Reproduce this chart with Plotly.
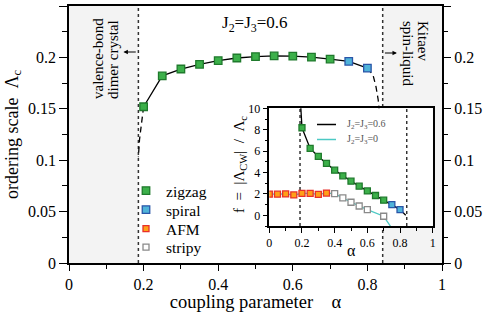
import plotly.graph_objects as go

# ---------------- data ----------------
# main panel: ordering scale Lambda_c vs alpha (J2=J3=0.6)
alpha_zigzag = [0.20, 0.25, 0.30, 0.35, 0.40, 0.45, 0.50, 0.55, 0.60, 0.65, 0.70]
lam_zigzag = [0.152, 0.182, 0.1887, 0.1933, 0.1968, 0.1994, 0.2008, 0.2014, 0.2012, 0.2002, 0.1984]
alpha_spiral = [0.75, 0.80]
lam_spiral = [0.1962, 0.1895]
# dashed extrapolations toward the phase boundaries
alpha_dash_left = [0.200, 0.193, 0.189, 0.186]
lam_dash_left = [0.152, 0.134, 0.120, 0.103]
alpha_dash_right = [0.800, 0.815, 0.823, 0.829, 0.836, 0.841]
lam_dash_right = [0.1895, 0.1829, 0.1715, 0.1586, 0.13, 0.10]
phase_bounds = [0.186, 0.841]

# inset: f = |Lambda_CW| / Lambda_c
in_alpha_zigzag = [0.20, 0.25, 0.30, 0.35, 0.40, 0.45, 0.50, 0.55, 0.60, 0.65, 0.70]
in_f_zigzag = [8.18, 6.25, 5.50, 4.85, 4.22, 3.69, 3.19, 2.72, 2.28, 1.85, 1.41]
in_alpha_spiral = [0.75, 0.80]
in_f_spiral = [1.00, 0.53]
in_alpha_afm = [0.00, 0.05, 0.10, 0.15, 0.20, 0.25, 0.30, 0.35]
in_f_afm = [1.97, 1.97, 2.00, 1.90, 2.05, 2.05, 1.95, 2.08]
in_alpha_stripy = [0.40, 0.45, 0.50, 0.55, 0.60, 0.70]
in_f_stripy = [2.03, 1.62, 1.22, 0.87, 0.53, -0.09]
# curves
line06_alpha = [0.192, 0.20, 0.25, 0.30, 0.35, 0.40, 0.45, 0.50, 0.55, 0.60, 0.65, 0.70, 0.75, 0.80, 0.835]
line06_f = [10.3, 8.18, 6.25, 5.50, 4.85, 4.22, 3.69, 3.19, 2.72, 2.28, 1.85, 1.41, 1.00, 0.53, 0.0]
line0_alpha = [0.00, 0.05, 0.10, 0.15, 0.20, 0.25, 0.30, 0.35, 0.40, 0.45, 0.50, 0.55, 0.60, 0.65, 0.70, 0.745]
line0_f = [1.97, 1.97, 2.00, 1.90, 2.05, 2.05, 1.95, 2.08, 2.03, 1.62, 1.22, 0.87, 0.53, 0.24, -0.09, -1.1]
inset_bounds = [0.188, 0.841]

main_xticks = [0, 0.2, 0.4, 0.6, 0.8, 1]
main_yticks = [0, 0.05, 0.1, 0.15, 0.2, 0.25]
main_ytick_text = ["0", "0.05", "0.1", "0.15", "0.2", "0.25"]
inset_xticks = [0, 0.2, 0.4, 0.6, 0.8, 1]
inset_yticks = [0, 2, 4, 6, 8, 10]

# ---------------- styles ----------------
FONT = "Liberation Serif, Times New Roman, serif"
W, H = 485, 312
L, R, T, B = 69, 43, 6, 49
PW, PH = W - L - R, H - T - B

def px_x(px):
    return (px - L) / PW

def px_y(py):
    return (H - B - py) / PH

zig = dict(symbol="square", color="#3cb04a", line=dict(color="#1f7a2c", width=1.3))
spi = dict(symbol="square", color="#4fb3d9", line=dict(color="#2a55a8", width=1.3))
afm = dict(symbol="square", color="#ffa018", line=dict(color="#e8302a", width=1.3))
stp = dict(symbol="square", color="#ffffff", line=dict(color="#8a8a8a", width=1.3))

fig = go.Figure()

# ---- main panel ----
for xb in phase_bounds:
    fig.add_trace(go.Scatter(x=[xb, xb], y=[0, 0.25], mode="lines",
                             line=dict(color="#333333", width=1.5, dash="dot"),
                             showlegend=False, hoverinfo="skip", xaxis="x", yaxis="y"))
fig.add_trace(go.Scatter(x=alpha_dash_left, y=lam_dash_left, mode="lines",
                         line=dict(color="black", width=1.3, dash="6px,4px"),
                         showlegend=False, xaxis="x", yaxis="y"))
fig.add_trace(go.Scatter(x=alpha_dash_right, y=lam_dash_right, mode="lines",
                         line=dict(color="black", width=1.3, dash="6px,4px"),
                         showlegend=False, xaxis="x", yaxis="y"))
fig.add_trace(go.Scatter(x=alpha_zigzag + alpha_spiral, y=lam_zigzag + lam_spiral, mode="lines",
                         line=dict(color="black", width=1.3),
                         showlegend=False, xaxis="x", yaxis="y"))
fig.add_trace(go.Scatter(x=alpha_zigzag, y=lam_zigzag, mode="markers", name="zigzag", legend="legend",
                         marker=dict(size=7.5, **zig), xaxis="x", yaxis="y"))
fig.add_trace(go.Scatter(x=alpha_spiral, y=lam_spiral, mode="markers", name="spiral", legend="legend2",
                         marker=dict(size=7.5, **spi), xaxis="x", yaxis="y"))
# invisible trace for right-hand y axis
fig.add_trace(go.Scatter(x=[0.5], y=[0.1], mode="markers", marker=dict(opacity=0),
                         showlegend=False, hoverinfo="skip", xaxis="x", yaxis="y3"))

# ---- inset ----
for xb in inset_bounds:
    fig.add_trace(go.Scatter(x=[xb, xb], y=[-1, 10], mode="lines",
                             line=dict(color="#333333", width=1.5, dash="dot"),
                             showlegend=False, hoverinfo="skip", xaxis="x2", yaxis="y2"))
fig.add_trace(go.Scatter(x=line0_alpha, y=line0_f, mode="lines",
                         line=dict(color="#4cc9c4", width=1.3),
                         showlegend=False, xaxis="x2", yaxis="y2"))
fig.add_trace(go.Scatter(x=line06_alpha, y=line06_f, mode="lines",
                         line=dict(color="black", width=1.3),
                         showlegend=False, xaxis="x2", yaxis="y2"))
fig.add_trace(go.Scatter(x=in_alpha_zigzag, y=in_f_zigzag, mode="markers",
                         marker=dict(size=6, **zig), showlegend=False, xaxis="x2", yaxis="y2"))
fig.add_trace(go.Scatter(x=in_alpha_spiral, y=in_f_spiral, mode="markers",
                         marker=dict(size=6, **spi), showlegend=False, xaxis="x2", yaxis="y2"))
fig.add_trace(go.Scatter(x=in_alpha_afm, y=in_f_afm, mode="markers", name="AFM", legend="legend3",
                         marker=dict(size=6, **afm), xaxis="x2", yaxis="y2"))
fig.add_trace(go.Scatter(x=in_alpha_stripy, y=in_f_stripy, mode="markers", name="stripy", legend="legend4",
                         marker=dict(size=6, **stp), xaxis="x2", yaxis="y2"))

# shaded phase regions
shapes = [
    dict(type="rect", xref="x", yref="y", x0=0, x1=phase_bounds[0], y0=0, y1=0.25,
         fillcolor="#f3f3f3", line=dict(width=0), layer="below"),
    dict(type="rect", xref="x", yref="y", x0=phase_bounds[1], x1=1, y0=0, y1=0.25,
         fillcolor="#f3f3f3", line=dict(width=0), layer="below"),
    # inset legend line samples
    dict(type="line", xref="paper", yref="paper", x0=px_x(317), x1=px_x(336), y0=px_y(124.5), y1=px_y(124.5),
         line=dict(color="black", width=1.5)),
    dict(type="line", xref="paper", yref="paper", x0=px_x(317), x1=px_x(336), y0=px_y(139.5), y1=px_y(139.5),
         line=dict(color="#4cc9c4", width=1.5)),
]

annotations = [
    dict(text="J<sub>2</sub>=J<sub>3</sub>=0.6", xref="paper", yref="paper", x=px_x(255), y=px_y(24),
         showarrow=False, font=dict(family=FONT, size=17, color="black"), xanchor="center", yanchor="middle"),
    dict(text="valence-bond", xref="paper", yref="paper", x=px_x(97.5), y=px_y(101), textangle=-90,
         showarrow=False, font=dict(family=FONT, size=15, color="black"), xanchor="center", yanchor="bottom"),
    dict(text="dimer crystal", xref="paper", yref="paper", x=px_x(112.5), y=px_y(101), textangle=-90,
         showarrow=False, font=dict(family=FONT, size=15, color="black"), xanchor="center", yanchor="bottom"),
    dict(text="Kitaev", xref="paper", yref="paper", x=px_x(423), y=px_y(19), textangle=90,
         showarrow=False, font=dict(family=FONT, size=15, color="black"), xanchor="center", yanchor="top"),
    dict(text="spin-liquid", xref="paper", yref="paper", x=px_x(408), y=px_y(19), textangle=90,
         showarrow=False, font=dict(family=FONT, size=15, color="black"), xanchor="center", yanchor="top"),
    dict(text="", x=0.146, y=0.2053, ax=0.183, ay=0.2053, xref="x", yref="y", axref="x", ayref="y",
         showarrow=True, arrowhead=2, arrowsize=0.8, arrowwidth=1.1, arrowcolor="black"),
    dict(text="", x=0.879, y=0.2043, ax=0.843, ay=0.2043, xref="x", yref="y", axref="x", ayref="y",
         showarrow=True, arrowhead=2, arrowsize=0.8, arrowwidth=1.1, arrowcolor="black"),
    dict(text="J<sub>2</sub>=J<sub>3</sub>=0.6", xref="paper", yref="paper", x=px_x(345), y=px_y(124.5),
         showarrow=False, font=dict(family=FONT, size=10, color="#555555"), xanchor="left", yanchor="middle"),
    dict(text="J<sub>2</sub>=J<sub>3</sub>=0", xref="paper", yref="paper", x=px_x(345), y=px_y(139.5),
         showarrow=False, font=dict(family=FONT, size=10, color="#555555"), xanchor="left", yanchor="middle"),
    # inset axis titles
    dict(text="α", xref="paper", yref="paper", x=px_x(351), y=px_y(250),
         showarrow=False, font=dict(family=FONT, size=16, color="black"), xanchor="center", yanchor="middle"),
    dict(text="f\u2002=\u2002|Λ<sub>CW</sub>|\u2002/\u2002Λ<sub>c</sub>", xref="paper", yref="paper",
         x=px_x(240), y=px_y(165), textangle=-90,
         showarrow=False, font=dict(family=FONT, size=15, color="black"), xanchor="center", yanchor="middle"),
]

inset_x0, inset_x1 = px_x(269.3), px_x(432.7)
inset_y0, inset_y1 = px_y(226), px_y(108.3)

axis_common = dict(showgrid=False, zeroline=False, linecolor="black", ticks="outside", automargin=False,
                   tickcolor="black", tickfont=dict(family=FONT, size=16, color="black"))

def legend_at(py):
    return dict(x=px_x(126), y=px_y(py), xanchor="left", yanchor="middle",
                bgcolor="rgba(0,0,0,0)", font=dict(family=FONT, size=15.5, color="black"),
                itemwidth=30, borderwidth=0)

fig.update_layout(
    template="none",
    width=W, height=H,
    margin=dict(l=L, r=R, t=T, b=B),
    plot_bgcolor="white", paper_bgcolor="white",
    font=dict(family=FONT, color="black"),
    showlegend=True,
    legend=legend_at(191),
    legend2=legend_at(210),
    legend3=legend_at(229),
    legend4=legend_at(247.5),
    xaxis=dict(domain=[0, 1], range=[0, 1], tickvals=main_xticks,
               ticktext=[str(v) for v in main_xticks], ticklen=6, linewidth=1.6, mirror=True,
               minor=dict(dtick=0.1, ticklen=4, ticks="outside", tickcolor="black"),
               title=dict(text="coupling parameter\u2002\u2002α", font=dict(family=FONT, size=18.5), standoff=0),
               anchor="y", **axis_common),
    yaxis=dict(domain=[0, 1], range=[0, 0.25], tickvals=main_yticks, ticktext=main_ytick_text,
               ticklen=8, linewidth=1.6, mirror=True,
               minor=dict(dtick=0.025, ticklen=5, ticks="outside", tickcolor="black"),
               title=dict(text="ordering scale\u2002Λ<sub>c</sub>", font=dict(family=FONT, size=18), standoff=5),
               anchor="x", **axis_common),
    yaxis3=dict(range=[0, 0.25], overlaying="y", side="right", anchor="x",
                tickvals=main_yticks, ticktext=main_ytick_text, ticklen=8, linewidth=0,
                showline=False,
                minor=dict(dtick=0.025, ticklen=5, ticks="outside", tickcolor="black"),
                **axis_common),
    xaxis2=dict(domain=[inset_x0, inset_x1], range=[0, 1], anchor="y2", automargin=False,
                tickvals=inset_xticks, ticktext=[str(v) for v in inset_xticks],
                ticklen=5, linewidth=1.5, mirror=True,
                minor=dict(dtick=0.1, ticklen=3, ticks="outside", tickcolor="black"),
                showgrid=False, zeroline=False, linecolor="black", ticks="outside", tickcolor="black",
                tickfont=dict(family=FONT, size=12, color="black")),
    yaxis2=dict(domain=[inset_y0, inset_y1], range=[-1, 10], anchor="x2", automargin=False,
                tickvals=inset_yticks, ticklen=5, linewidth=1.5, mirror=True,
                minor=dict(dtick=1, ticklen=3, ticks="outside", tickcolor="black"),
                showgrid=False, zeroline=False, linecolor="black", ticks="outside", tickcolor="black",
                tickfont=dict(family=FONT, size=12, color="black")),
    shapes=shapes,
    annotations=annotations,
)

fig.write_html("out.html", config={"displayModeBar": False},
               post_script="document.body.style.margin='0px';")
